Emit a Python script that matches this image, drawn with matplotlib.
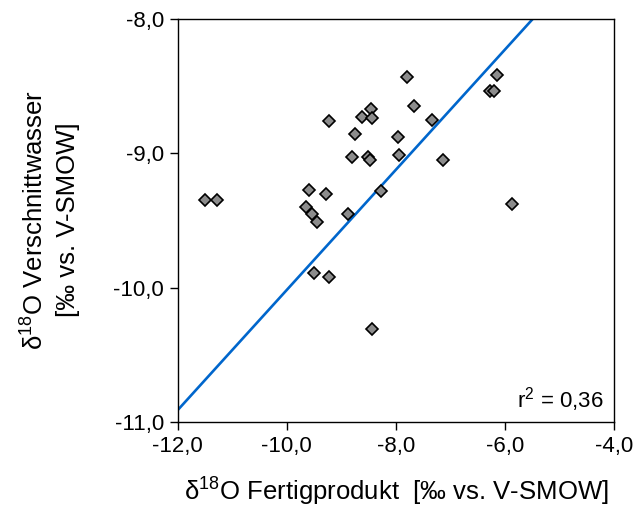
import matplotlib
matplotlib.use("Agg")
import matplotlib.pyplot as plt
import numpy as np

plt.rcParams['font.family'] = ['Liberation Sans', 'DejaVu Sans']
plt.rcParams['mathtext.fontset'] = 'custom'
plt.rcParams['mathtext.rm'] = 'Liberation Sans'
plt.rcParams['mathtext.it'] = 'Liberation Sans'
plt.rcParams['mathtext.default'] = 'regular'

# δ18O Fertigprodukt (x) and δ18O Verschnittwasser (y)
x_vals = [-7.80, -7.66, -8.45, -8.62, -8.43, -9.23, -8.75, -7.97, -8.81, -8.52,
          -8.47, -7.94, -11.51, -11.29, -9.59, -9.28, -9.64, -9.54, -9.45, -8.88,
          -8.28, -7.33, -7.13, -6.14, -6.28, -6.20, -5.87, -9.51, -9.23, -8.44]
y_vals = [-8.43, -8.65, -8.67, -8.73, -8.74, -8.76, -8.86, -8.88, -9.03, -9.03,
          -9.05, -9.01, -9.35, -9.35, -9.27, -9.30, -9.40, -9.45, -9.51, -9.45,
          -9.28, -8.75, -9.05, -8.42, -8.54, -8.54, -9.38, -9.89, -9.92, -10.31]

# regression line
slope = 0.447
intercept = -5.546
r2_text = "0,36"

x_ticks = [-12, -10, -8, -6, -4]
y_ticks = [-11, -10, -9, -8]

fig = plt.figure(figsize=(6.35, 5.25), dpi=100)
ax = fig.add_axes([0.280, 0.196, 0.687, 0.768])

xl = np.array([-12.0, -4.0])
ax.plot(xl, intercept + slope * xl, color='#0066cc', lw=1.9, zorder=2)
ax.plot(x_vals, y_vals, linestyle='none', marker='D', markersize=6.5,
        markerfacecolor='#8c8c8c', markeredgecolor='black', markeredgewidth=1.2, zorder=3)

ax.set_xlim(-12, -4)
ax.set_ylim(-11, -8)
ax.set_xticks(x_ticks)
ax.set_yticks(y_ticks)
ax.set_xticklabels([f"{v:.1f}".replace('.', ',') for v in x_ticks], fontsize=16)
ax.set_yticklabels([f"{v:.1f}".replace('.', ',') for v in y_ticks], fontsize=16)
ax.tick_params(direction='out', length=6, width=1, pad=4)
for s in ax.spines.values():
    s.set_linewidth(1)
    s.set_color('black')

ax.text(0.977, 0.035, "r$^2$ = " + r2_text, transform=ax.transAxes,
        ha='right', va='baseline', fontsize=16)

fig.text(396 / 635, 1 - 492 / 525, "δ$^{18}$O Fertigprodukt  [‰ vs. V-SMOW]",
         ha='center', va='center', fontsize=18.5)
fig.text(51 / 635, 1 - 220 / 525, "δ$^{18}$O Verschnittwasser\n[‰ vs. V-SMOW]",
         ha='center', va='center', rotation=90, fontsize=18.5,
         multialignment='center', linespacing=1.4)

fig.savefig("out.png", dpi=100)
